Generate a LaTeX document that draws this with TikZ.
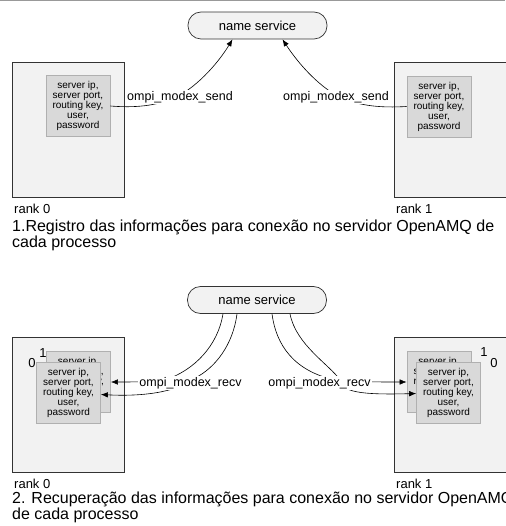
\documentclass[tikz,border=0pt]{standalone}
\usepackage{fontspec}
\setmainfont{Liberation Sans}
\usetikzlibrary{positioning,arrows.meta}
\definecolor{procgray}{HTML}{F2F2F2}
\definecolor{infogray}{HTML}{D9D9D9}
\definecolor{infoline}{HTML}{B0B0B0}
\tikzset{
  proc/.style={draw=black!80, fill=procgray, line width=0.7pt,
    minimum width=112pt, minimum height=135pt},
  info/.style={draw=infoline, fill=infogray, line width=0.7pt, align=center,
    minimum width=64pt, minimum height=61pt, inner sep=0pt,
    font=\fontsize{10}{10}\selectfont},
  nsrv/.style={draw=black!80, fill=procgray, line width=0.7pt, rounded corners=13pt,
    minimum width=139pt, minimum height=27pt, font=\fontsize{13}{14}\selectfont},
  lbl/.style={fill=white, inner sep=1pt, font=\fontsize{12.5}{14}\selectfont},
  rank/.style={anchor=base west, inner sep=0pt, font=\fontsize{13}{14}\selectfont},
  digit/.style={inner sep=0pt, font=\fontsize{13}{14}\selectfont},
  capt/.style={anchor=north west, align=left, inner sep=0pt,
    font=\fontsize{16}{15.5}\selectfont},
  conn/.style={-{Latex[length=7pt,width=5.5pt]}, line width=0.6pt}
}
\begin{document}
\begin{tikzpicture}[x=1pt,y=-1pt]
\useasboundingbox (0,0) rectangle (505,526);
\draw[black!40, line width=1.2pt] (0,0.6) -- (505,0.6);

% 1. registro
\node[nsrv] (ns1) at (257.5,25.5) {name service};
\node[proc] (p0) at (68,129.5) {};
\node[proc] (p1) at (450,129.5) {};
\node[info] (in0) at (78,106) {server ip,\\server port,\\routing key,\\user,\\password};
\node[info] (in1) at (439,106.5) {server ip,\\server port,\\routing key,\\user,\\password};
\coordinate (v0) at (175,98);
\coordinate (v1) at (341,98);
\draw[conn] (in0.east) .. controls (135,108) and (155,106) .. (v0)
  .. controls (200,85) and (220,60) .. ([xshift=-25pt]ns1.south);
\draw[conn] (in1.west) .. controls (381,108) and (361,106) .. (v1)
  .. controls (316,85) and (296,60) .. ([xshift=25pt]ns1.south);
\node[lbl] (l0) at (180,97) {ompi\_modex\_send};
\node[lbl] (l1) at (336,97) {ompi\_modex\_send};
\node[rank] (r0) at (14,214) {rank 0};
\node[rank] (r1) at (396,214) {rank 1};
\node[capt] (c1) at (12,220) {1.Registro das informações para conexão no servidor OpenAMQ de\\cada processo};

% 2. recuperacao
\node[nsrv] (ns2) at (257,300) {name service};
\node[proc] (p2) at (68,404.5) {};
\node[proc] (p3) at (450,404.5) {};
\node[info] (b0) at (78.5,382) {server ip,\\server port,\\routing key,\\user,\\password};
\node[info] (f0) at (68.5,392.5) {server ip,\\server port,\\routing key,\\user,\\password};
\node[info] (b1) at (439,382) {server ip,\\server port,\\routing key,\\user,\\password};
\node[info] (f1) at (448.5,392.5) {server ip,\\server port,\\routing key,\\user,\\password};
\node[digit] (d0b) at (43,353) {1};
\node[digit] (d0f) at (32,363) {0};
\node[digit] (d1b) at (484,352) {1};
\node[digit] (d1f) at (494,363) {0};
\coordinate (v2) at (165,380);
\coordinate (v3) at (195,378);
\coordinate (v4) at (335,380);
\coordinate (v5) at (340,380);
\draw[conn] ([xshift=-34pt]ns2.south) .. controls (218,345) and (195,370) .. (v2)
  .. controls (150,382) and (130,382) .. (b0.east);
\draw[conn] ([xshift=-20pt]ns2.south) .. controls (233,345) and (215,368) .. (v3)
  .. controls (180,390) and (150,397) .. ([yshift=-2pt]f0.east);
\draw[conn] ([xshift=15pt]ns2.south) .. controls (276,345) and (294,371) .. (v4)
  .. controls (355,382) and (380,382) .. (b1.west);
\draw[conn] ([xshift=33pt]ns2.south) .. controls (296,345) and (330,365) .. (v5)
  .. controls (342,392) and (360,395) .. ([yshift=-1pt]f1.west);
\node[lbl] (l2) at (190.5,383) {ompi\_modex\_recv};
\node[lbl] (l3) at (319.5,383) {ompi\_modex\_recv};
\node[rank] (r2) at (14,488) {rank 0};
\node[rank] (r3) at (396,488) {rank 1};
\node[capt] (c2) at (12,492) {2. Recuperação das informações para conexão no servidor OpenAMQ\\de cada processo};
\end{tikzpicture}
\end{document}
